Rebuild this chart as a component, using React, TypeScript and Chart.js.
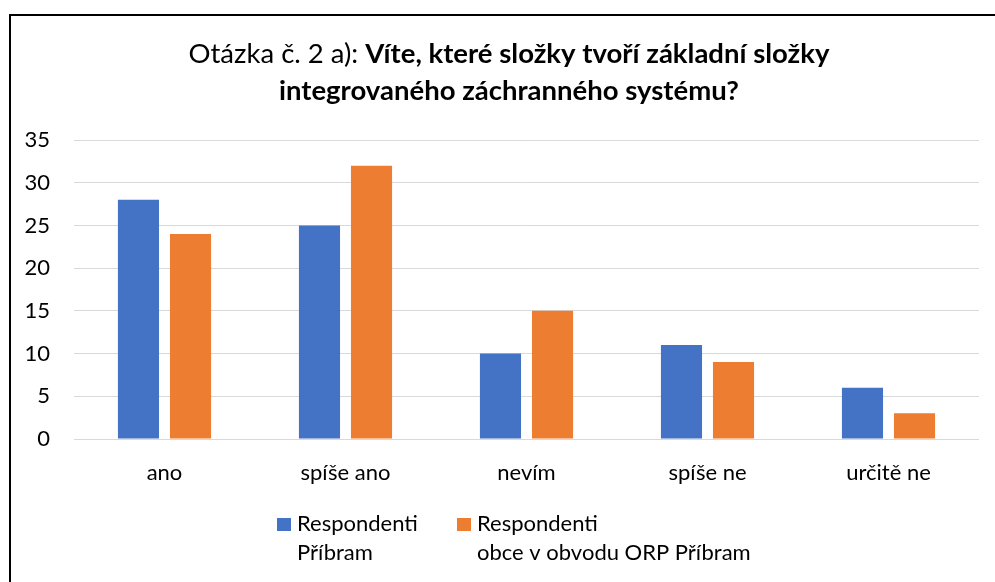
import React, { useEffect, useRef } from "react";
import { Chart, registerables } from "chart.js";

Chart.register(...registerables);

const categories = ["ano", "spíše ano", "nevím", "spíše ne", "určitě ne"];
const seriesPribram = [28, 25, 10, 11, 6];
const seriesObce = [24, 32, 15, 9, 3];
const seriesNames = [["Respondenti", "Příbram"], ["Respondenti", "obce v obvodu ORP Příbram"]];
const titleNormal = "Otázka č. 2 a): ";
const titleBold1 = "Víte, které složky tvoří základní složky";
const titleBold2 = "integrovaného záchranného systému?";
const yTicksMax = 35;
const yTicksStep = 5;

const BLUE = "#4472C4";
const ORANGE = "#ED7D31";
const FONT = "Lato";

const overlay = {
  id: "overlay",
  beforeDraw(chart: any) {
    const ctx = chart.ctx;
    ctx.save();
    ctx.fillStyle = "#fff";
    ctx.fillRect(0, 0, chart.width, chart.height);
    ctx.restore();
  },
  afterDraw(chart: any) {
    const ctx = chart.ctx;
    ctx.save();
    // frame
    ctx.strokeStyle = "#000";
    ctx.lineWidth = 2;
    ctx.strokeRect(10, 15, 1200, 1000);
    // title
    ctx.fillStyle = "#000";
    ctx.textBaseline = "alphabetic";
    ctx.textAlign = "left";
    const size = 27.5;
    ctx.font = `${size}px ${FONT}`;
    const w1 = ctx.measureText(titleNormal).width;
    ctx.font = `bold ${size}px ${FONT}`;
    const w2 = ctx.measureText(titleBold1).width;
    const cx = 509;
    let x0 = cx - (w1 + w2) / 2;
    ctx.font = `${size}px ${FONT}`;
    ctx.fillText(titleNormal, x0, 63);
    ctx.font = `bold ${size}px ${FONT}`;
    ctx.fillText(titleBold1, x0 + w1, 63);
    ctx.textAlign = "center";
    ctx.fillText(titleBold2, cx, 100);
    // legend
    ctx.textAlign = "left";
    ctx.font = `22px ${FONT}`;
    const colors = [BLUE, ORANGE];
    const xs = [277, 457];
    for (let i = 0; i < 2; i++) {
      ctx.fillStyle = colors[i];
      ctx.fillRect(xs[i], 518, 14, 13);
      ctx.fillStyle = "#000";
      seriesNames[i].forEach((line, j) => {
        ctx.fillText(line, xs[i] + 20, 531 + j * 29);
      });
    }
    ctx.restore();
  },
};

export default function App() {
  const ref = useRef<HTMLCanvasElement>(null);
  useEffect(() => {
    document.body.style.margin = "0";
    const chart = new Chart(ref.current!, {
      type: "bar",
      data: {
        labels: categories,
        datasets: [
          {
            label: seriesNames[0].join(" "),
            data: seriesPribram,
            backgroundColor: BLUE,
            categoryPercentage: 0.575,
            barPercentage: 0.79,
          },
          {
            label: seriesNames[1].join(" "),
            data: seriesObce,
            backgroundColor: ORANGE,
            categoryPercentage: 0.575,
            barPercentage: 0.79,
          },
        ],
      },
      options: {
        animation: false,
        responsive: false,
        layout: { padding: { top: 140, right: 16, left: 0, bottom: 0 } },
        plugins: {
          legend: { display: false },
          title: { display: false },
          tooltip: { enabled: false },
        },
        scales: {
          x: {
            grid: { display: false, drawTicks: false },
            border: { display: false },
            ticks: { color: "#000", padding: 21, font: { family: FONT, size: 22 } },
            afterFit: (s: any) => {
              s.height = 143;
            },
          },
          y: {
            min: 0,
            max: yTicksMax,
            grid: { color: "#d9d9d9", lineWidth: 1, drawTicks: false },
            border: { display: false },
            ticks: {
              stepSize: yTicksStep,
              color: "#000",
              padding: 24,
              font: { family: FONT, size: 22 },
            },
            afterFit: (s: any) => {
              s.width = 74;
            },
          },
        },
      },
      plugins: [overlay],
    });
    return () => chart.destroy();
  }, []);
  return (
    <div style={{ position: "absolute", left: 0, top: 0, width: 995, height: 582 }}>
      <canvas ref={ref} width={995} height={582} />
    </div>
  );
}
